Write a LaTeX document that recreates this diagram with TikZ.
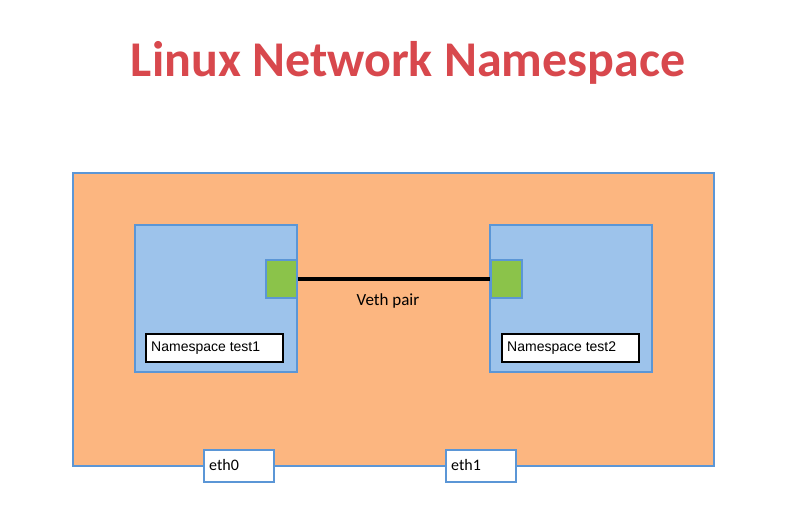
\documentclass[tikz,border=0pt]{standalone}
\usepackage{fontspec}
\setmainfont{Liberation Sans}
\newfontfamily\calib{Carlito}
\definecolor{peach}{RGB}{252,182,128}
\definecolor{nsblue}{RGB}{157,195,235}
\definecolor{edgeblue}{RGB}{91,150,214}
\definecolor{portgreen}{RGB}{139,195,74}
\definecolor{titlered}{RGB}{216,72,77}
\begin{document}
\begin{tikzpicture}[x=1pt,y=-1pt,
  nsbox/.style={draw=edgeblue,line width=2pt,fill=nsblue,inner sep=0pt,minimum width=162pt,minimum height=147pt,anchor=north west},
  port/.style={draw=edgeblue,line width=1.5pt,fill=portgreen,inner sep=0pt,minimum width=31pt,minimum height=38pt,anchor=north west},
  lbl/.style={draw=black,line width=2pt,fill=white,inner sep=0pt,minimum width=137pt,minimum height=28pt,anchor=north west},
  lbltext/.style={anchor=west,inner sep=0pt,font=\fontsize{14}{16}\selectfont},
  ethbox/.style={draw=edgeblue,line width=1.5pt,fill=white,inner sep=0pt,minimum width=70pt,minimum height=32pt,anchor=north west},
  ethtext/.style={anchor=west,inner sep=0pt,font=\calib\fontsize{16}{18}\selectfont},
  veth/.style={line width=4pt,black}]
\useasboundingbox[fill=white] (0,0) rectangle (786,508);
\node[font=\calib\bfseries\fontsize{50}{56}\selectfont,text=titlered] (title) at (408,63) {Linux Network Namespace};
\node[draw=edgeblue,line width=2pt,fill=peach,inner sep=0pt,minimum width=641pt,minimum height=293pt,anchor=north west] (host) at (72,172) {};
\node[nsbox] (ns1) at (134,224) {};
\node[nsbox] (ns2) at (489,224) {};
\node[port] (p1) at (265,259) {};
\node[port] (p2) at (490,259) {};
\draw[veth] (p1.east) -- (p2.west);
\node[font=\calib\fontsize{17}{19}\selectfont] (vl) at (388,301) {Veth pair};
\node[lbl] (l1) at (145,333) {};
\node[lbl] (l2) at (501,333) {};
\node[lbltext] (l1t) at (151,348) {Namespace test1};
\node[lbltext] (l2t) at (507,348) {Namespace test2};
\node[ethbox] (e0) at (203,449) {};
\node[ethbox] (e1) at (445,449) {};
\node[ethtext] (e0t) at (209,465) {eth0};
\node[ethtext] (e1t) at (451,465) {eth1};
\end{tikzpicture}
\end{document}
